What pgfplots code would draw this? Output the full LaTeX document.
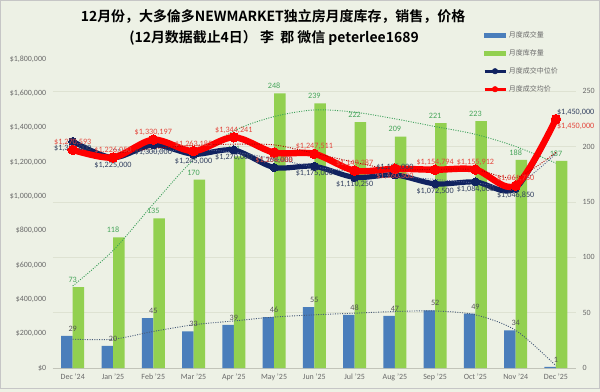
\documentclass[border=0pt]{standalone}
\usepackage{pgfplots}
\usepackage{pgfplotstable}
\pgfplotsset{compat=1.18}
\usepackage{fontspec}
\setmainfont{Carlito}
\newfontfamily\cjk[BoldFont={Noto Sans CJK SC Bold}]{Noto Sans CJK SC}
\definecolor{bg}{RGB}{237,241,229}
\definecolor{barblue}{RGB}{74,126,187}
\definecolor{bargreen}{RGB}{146,208,80}
\definecolor{navy}{RGB}{16,34,96}
\definecolor{lred}{RGB}{255,0,0}
\definecolor{redlab}{RGB}{228,70,60}
\definecolor{navylab}{RGB}{50,64,96}
\definecolor{greenlab}{RGB}{70,165,90}
\definecolor{graytxt}{RGB}{105,105,105}
\definecolor{gridc}{RGB}{222,226,210}
\definecolor{trendblue}{RGB}{70,90,120}
\definecolor{trendgreen}{RGB}{60,160,90}
\pgfplotsset{/pgf/number format/assume math mode=true}

\pgfplotstableread{
x vol inv
0 29 73
1 20 118
2 45 135
3 33 170
4 39 191
5 46 248
6 55 239
7 48 222
8 47 209
9 52 221
10 49 223
11 34 188
12 1 187
}\bardata

\pgfplotstableread{
x vt it
0 26 74
1 26 106
2 33 148
3 39 188
4 42.5 214
5 46 227
6 48 233
7 49.5 231
8 51 225
9 51.5 218
10 48 211
11 34 200
12 2 185
}\trenddata

% median price: all points, then label groups
\pgfplotstableread{
x y lab
0 1320000 1,320,000
1 1225000 1,225,000
2 1300000 1,300,000
3 1245000 1,245,000
4 1270000 1,270,000
5 1168000 1,168,000
6 1175000 1,175,000
7 1110250 1,110,250
8 1125000 1,125,000
9 1072500 1,072,500
10 1084000 1,084,000
11 1046850 1,046,850
12 1450000 1,450,000
}\navydata
\pgfplotstableread{
x y lab
0 1320000 1,320,000
1 1225000 1,225,000
2 1300000 1,300,000
3 1245000 1,245,000
4 1270000 1,270,000
6 1175000 1,175,000
7 1110250 1,110,250
9 1072500 1,072,500
10 1084000 1,084,000
11 1046850 1,046,850
}\navybelow
\pgfplotstableread{
x y lab
5 1168000 1,168,000
8 1125000 1,125,000
}\navyabove
\pgfplotstableread{
x y lab
12 1450000 1,450,000
}\navyright

% average price
\pgfplotstableread{
x y lab
0 1270593 1,270,593
1 1226050 1,226,050
2 1330197 1,330,197
3 1263185 1,263,185
4 1344241 1,344,241
5 1254888 1,254,888
6 1247511 1,247,511
7 1149387 1,149,387
8 1160500 1,160,500
9 1154794 1,154,794
10 1155912 1,155,912
11 1061750 1,061,750
12 1450000 1,450,000
}\reddata
\pgfplotstableread{
x y lab
0 1270593 1,270,593
1 1226050 1,226,050
2 1330197 1,330,197
3 1263185 1,263,185
4 1344241 1,344,241
6 1247511 1,247,511
7 1149387 1,149,387
9 1154794 1,154,794
10 1155912 1,155,912
11 1061750 1,061,750
}\redabove
\pgfplotstableread{
x y lab
5 1254888 1,254,888
8 1160500 1,160,500
}\redbelow
\pgfplotstableread{
x y lab
12 1450000 1,450,000
}\redright

\pgfplotstableread{
x nma rma
1 1272500 1248322
2 1262500 1278124
3 1272500 1296691
4 1257500 1303713
5 1219000 1299565
6 1171500 1251200
7 1142625 1198449
8 1117625 1154944
9 1098750 1157647
10 1078250 1155353
11 1065425 1108831
12 1248425 1255875
}\madata

\pgfplotsset{
  lab/.style={draw=none, mark=none, forget plot,
    point meta=explicit symbolic,
    nodes near coords={\$\pgfplotspointmeta},
    nodes near coords style={font=\fontsize{8.2}{9}\selectfont, anchor=#1, inner sep=3.8bp}},
}

\begin{document}
\begin{tikzpicture}
\fill[bg] (0,0) rectangle (600bp,392bp);
\draw[gray!45, line width=1bp] (0.5bp,3.5bp) rectangle (599.5bp,391.5bp);

% ---------- bars on the right axis ----------
\begin{axis}[
  at={(52.6bp,24bp)}, anchor=south west,
  scale only axis, width=523.5bp, height=309bp,
  xmin=-0.5, xmax=12.5, ymin=0, ymax=279,
  axis line style={draw=none}, major tick length=0pt,
  yticklabel pos=right,
  ytick={0,50,...,250},
  ymajorgrids, grid style={gridc, line width=0.7bp},
  xtick={0,...,12},
  xticklabels={Dec '24,Jan '25,Feb '25,Mar '25,Apr '25,May '25,Jun '25,Jul '25,Aug '25,Sep '25,Oct '25,Nov '24,Dec '25},
  ticklabel style={font=\fontsize{8}{9}\selectfont, text=graytxt},
  xticklabel style={yshift=-2bp},
  yticklabel style={xshift=3bp},
  clip=false,
  legend style={at={(axis description cs:0.822,1.096)}, anchor=north west,
    draw=none, fill=none, font=\cjk\fontsize{7}{7.5}\selectfont, text=graytxt,
    row sep=6.6bp, inner sep=0pt, cells={anchor=west}},
]
\draw[gridc!70!gray, line width=0.7bp] (rel axis cs:0,0) -- (rel axis cs:1,0);
\addplot[forget plot, ybar, bar width=11.5bp, bar shift=-5.75bp, fill=barblue, draw=none,
  nodes near coords, nodes near coords style={font=\fontsize{8.2}{9}\selectfont, text=graytxt!80!black, anchor=south, yshift=1bp}]
  table[x=x, y=vol] {\bardata};
\addplot[forget plot, ybar, bar width=11.5bp, bar shift=5.75bp, fill=bargreen, draw=none,
  nodes near coords, nodes near coords style={font=\fontsize{8.2}{9}\selectfont, text=greenlab, anchor=south, yshift=1bp}]
  table[x=x, y=inv] {\bardata};
\addplot[forget plot, smooth, trendblue, line width=0.9bp, dash pattern=on 1bp off 1.4bp]
  table[x=x, y=vt] {\trenddata};
\addplot[forget plot, smooth, trendgreen, line width=0.9bp, dash pattern=on 1bp off 1.4bp]
  table[x=x, y=it] {\trenddata};
\addlegendimage{legend image code/.code={\fill[barblue] (0bp,-1.8bp) rectangle (21bp,1.8bp);}}
\addlegendimage{legend image code/.code={\fill[bargreen] (0bp,-1.8bp) rectangle (21bp,1.8bp);}}
\addlegendimage{legend image code/.code={\draw[navy, line width=2.8bp] (0bp,0bp) -- (21bp,0bp); \fill[navy] (10.5bp,0bp) circle (2.8bp);}}
\addlegendimage{legend image code/.code={\draw[lred, line width=2.8bp] (0bp,0bp) -- (21bp,0bp); \fill[lred] (10.5bp,0bp) circle (2.8bp);}}
\legend{月度成交量,月度库存量,月度成交中位价,月度成交均价}
\end{axis}

% ---------- price lines on the left axis ----------
\begin{axis}[
  at={(52.6bp,24bp)}, anchor=south west,
  scale only axis, width=523.5bp, height=309bp,
  xmin=-0.5, xmax=12.5, ymin=0, ymax=1800000,
  scaled y ticks=false,
  axis line style={draw=none}, major tick length=0pt,
  xtick=\empty,
  ytick={0,200000,400000,600000,800000,1000000,1200000,1400000,1600000,1800000},
  yticklabels={\$0,{\$200,000},{\$400,000},{\$600,000},{\$800,000},{\$1,000,000},{\$1,200,000},{\$1,400,000},{\$1,600,000},{\$1,800,000}},
  ticklabel style={font=\fontsize{8}{9}\selectfont, text=graytxt},
  yticklabel style={xshift=-3bp},
  clip=false,
]
\addplot[smooth, tension=0.5, navy, line width=5.2bp,
  mark=*, mark size=4bp, mark options={fill=navy, draw=navy, line width=0pt}]
  table[x=x, y=y] {\navydata};
\addplot[smooth, navy!70, line width=0.9bp, dash pattern=on 1bp off 1.4bp]
  table[x=x, y=nma] {\madata};
\addplot[lab=90, nodes near coords style={text=navylab}] table[x=x, y=y, meta=lab] {\navybelow};
\addplot[lab=-90, nodes near coords style={text=navylab}] table[x=x, y=y, meta=lab] {\navyabove};
\addplot[lab=-160, nodes near coords style={text=navylab}] table[x=x, y=y, meta=lab] {\navyright};
\addplot[smooth, tension=0.5, lred, line width=6.4bp,
  mark=*, mark size=4.8bp, mark options={fill=lred, draw=lred, line width=0pt}]
  table[x=x, y=y] {\reddata};
\addplot[smooth, red!70!black, line width=0.9bp, dash pattern=on 1bp off 1.4bp]
  table[x=x, y=rma] {\madata};
\addplot[lab=-90, nodes near coords style={text=redlab}] table[x=x, y=y, meta=lab] {\redabove};
\addplot[lab=90, nodes near coords style={text=redlab}] table[x=x, y=y, meta=lab] {\redbelow};
\addplot[lab=160, nodes near coords style={text=redlab}] table[x=x, y=y, meta=lab] {\redright};
\end{axis}

\node[font=\cjk\bfseries\fontsize{14}{17}\selectfont, text=black] at (273bp,375.5bp) {12月份，大多倫多NEWMARKET独立房月度库存，销售，价格};
\node[font=\cjk\bfseries\fontsize{14}{17}\selectfont, text=black] at (274bp,354bp) {(12月数据截止4日） 李\ \ 郡 微信 peterlee1689};

\pgfresetboundingbox
\useasboundingbox (0,0) rectangle (600bp,392bp);
\end{tikzpicture}
\end{document}
